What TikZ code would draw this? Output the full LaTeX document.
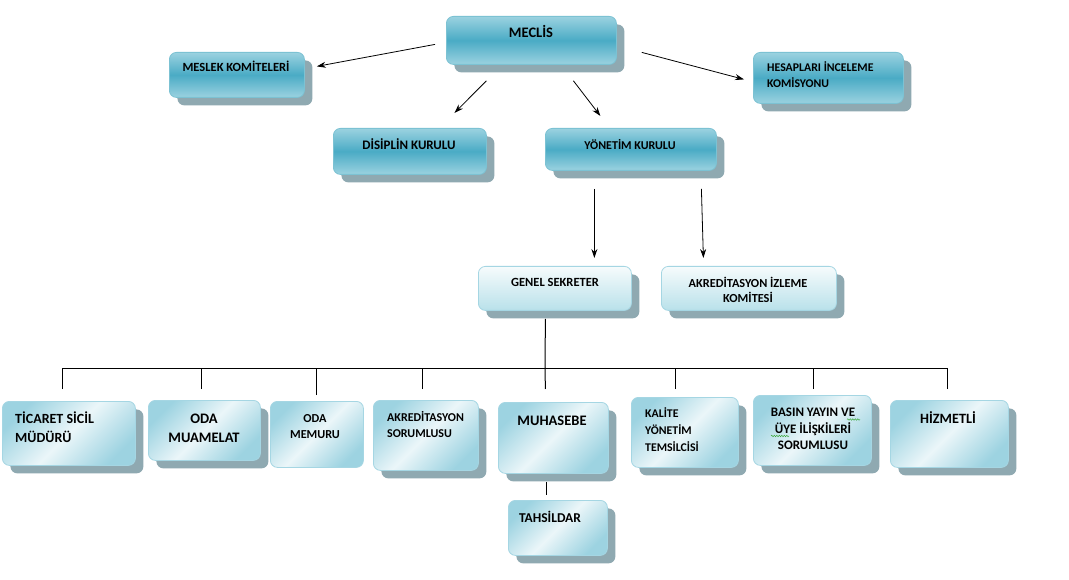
\documentclass[tikz,border=0pt]{standalone}
\usepackage{fontspec}
\setmainfont{Carlito}
\usetikzlibrary{arrows.meta,shadows,calc,decorations.pathmorphing}
\definecolor{tlight}{HTML}{9BD2E0}
\definecolor{tmid}{HTML}{4AABC5}
\definecolor{tbord}{HTML}{7CC2D3}
\definecolor{shc}{HTML}{8FA9B1}
\definecolor{ltop}{HTML}{F6FBFC}
\definecolor{lbot}{HTML}{B9E1EA}
\definecolor{lbord}{HTML}{A5D6E3}
\definecolor{dblue}{HTML}{9DD3E1}
\definecolor{dwhite}{HTML}{EBF6F9}
\definecolor{spell}{HTML}{3DA83D}
\tikzset{
  boxbase/.style={rounded corners=7pt, inner sep=0pt, anchor=north west, line width=0.8pt},
  shad/.style={drop shadow={shadow xshift=8pt, shadow yshift=-8pt, fill=shc, opacity=1}},
  topbox/.style={boxbase, shad, draw=tbord, top color=tlight, bottom color=tlight, middle color=tmid},
  lightbox/.style={boxbase, shad, draw=lbord, top color=ltop, bottom color=lbot},
  botbox/.style={boxbase, draw=lbord, left color=dblue, right color=dblue, middle color=dwhite, shading angle=45},
  botboxs/.style={botbox, shad},
  txt/.style={inner sep=0pt, font=\bfseries\fontsize{12.5}{16}\selectfont, text=black},
  arr/.style={-{Stealth[length=9pt,width=6pt]}, line width=0.8pt},
  tree/.style={line width=1pt},
  squig/.style={spell, line width=0.5pt, decorate, decoration={snake, amplitude=0.7pt, segment length=2.5pt}}
}
\begin{document}
\begin{tikzpicture}[x=1pt,y=-1pt]
\useasboundingbox[fill=white] (0,0) rectangle (1069,580);

% top level boxes
\node[topbox, minimum width=170pt, minimum height=48pt] (meclis) at (446,16) {};
\node[topbox, minimum width=135pt, minimum height=45pt] (mesl) at (169,52) {};
\node[topbox, minimum width=150pt, minimum height=51pt] (hes) at (753,52) {};
\node[topbox, minimum width=153pt, minimum height=46pt] (dis) at (333,128) {};
\node[topbox, minimum width=171pt, minimum height=42pt] (yon) at (545,128) {};
\node[lightbox, minimum width=153pt, minimum height=44pt] (gs) at (478,266) {};
\node[lightbox, minimum width=175pt, minimum height=44pt] (aiz) at (661,266) {};

% bottom row
\node[botboxs, minimum width=133pt, minimum height=64pt] (tic) at (2,401) {};
\node[botboxs, minimum width=112pt, minimum height=60pt] (muam) at (148,400) {};
\node[botbox, minimum width=93pt, minimum height=66pt] (mem) at (270,401) {};
\node[botboxs, minimum width=105pt, minimum height=70pt] (aks) at (373,400) {};
\node[botboxs, minimum width=110pt, minimum height=71pt] (muh) at (498,402) {};
\node[botboxs, minimum width=99pt, minimum height=55pt] (tah) at (508,500) {};
\node[botboxs, minimum width=107pt, minimum height=70pt] (kal) at (631,397) {};
\node[botboxs, minimum width=118pt, minimum height=70pt] (bas) at (753,395) {};
\node[botboxs, minimum width=118pt, minimum height=67pt] (hiz) at (890,400) {};

% texts
\node[txt, anchor=north, font=\bfseries\fontsize{14.5}{17}\selectfont] (meclis-t) at (531,25) {MECLİS};
\node[txt, anchor=north] (mesl-t) at (236,61) {MESLEK KOMİTELERİ};
\node[txt, anchor=north west, align=left, font=\bfseries\fontsize{11.8}{16}\selectfont] (hes-t) at (767,61.5) {HESAPLARI İNCELEME\\KOMİSYONU};
\node[txt, anchor=north, font=\bfseries\fontsize{13}{16}\selectfont] (dis-t) at (409,138.8) {DİSİPLİN KURULU};
\node[txt, anchor=north, font=\bfseries\fontsize{12}{16}\selectfont] (yon-t) at (630,139) {YÖNETİM KURULU};
\node[txt, anchor=north] (gs-t) at (555,278) {GENEL SEKRETER};
\node[txt, anchor=north, align=center, font=\bfseries\fontsize{12.3}{15}\selectfont] (aiz-t) at (748,277) {AKREDİTASYON İZLEME\\KOMİTESİ};
\node[txt, anchor=north west, align=left, font=\bfseries\fontsize{14}{19}\selectfont] (tic-t) at (15,411.3) {TİCARET SİCİL\\MÜDÜRÜ};
\node[txt, anchor=north, align=center, font=\bfseries\fontsize{14.5}{19}\selectfont] (muam-t) at (204,413.3) {ODA\\MUAMELAT};
\node[txt, anchor=north, align=center, font=\bfseries\fontsize{12.2}{16}\selectfont] (mem-t) at (315,414) {ODA\\MEMURU};
\node[txt, anchor=north west, align=left, font=\bfseries\fontsize{12}{16}\selectfont] (aks-t) at (387,411.3) {AKREDİTASYON\\SORUMLUSU};
\node[txt, anchor=north, font=\bfseries\fontsize{14.5}{17}\selectfont] (muh-t) at (552,415.3) {MUHASEBE};
\node[txt, anchor=north, font=\bfseries\fontsize{13.5}{16}\selectfont] (tah-t) at (550,510.7) {TAHSİLDAR};
\node[txt, anchor=north west, align=left, font=\bfseries\fontsize{11.8}{17}\selectfont] (kal-t) at (645,407.5) {KALİTE\\YÖNETİM\\TEMSİLCİSİ};
\node[txt, anchor=north, align=center, font=\bfseries\fontsize{13}{16.5}\selectfont] (bas-t) at (813,407.8) {BASIN YAYIN VE\\ÜYE İLİŞKİLERİ\\SORUMLUSU};
\node[txt, anchor=north, font=\bfseries\fontsize{14.2}{17}\selectfont] (hiz-t) at (948,411) {HİZMETLİ};

% spell-check squiggles
\coordinate (sq1a) at (847,419.5);
\coordinate (sq1b) at (860,419.5);
\coordinate (sq2a) at (771,436);
\coordinate (sq2b) at (789,436);
\draw[squig] (sq1a) -- (sq1b);
\draw[squig] (sq2a) -- (sq2b);

% arrows
\draw[arr] ($(meclis.west)+(-11,4)$) -- ($(mesl.east)+(12,-8.5)$);
\draw[arr] ($(meclis.south)+(-45,16)$) -- ($(dis.north)+(44.5,-15)$);
\draw[arr] ($(meclis.south)+(42,16)$) -- ($(yon.north)+(-30.5,-12)$);
\draw[arr] ($(meclis.east)+(25,12)$) -- ($(hes.west)+(-9,1.5)$);
\draw[arr] ($(yon.south)+(-36.5,18)$) -- ($(gs.north)+(39.5,-8)$);
\draw[arr] ($(yon.south)+(70.5,18)$) -- ($(aiz.north)+(-45.5,-8)$);

% tree
\coordinate (bus) at (545,368);
\draw[tree] ($(gs.south)+(-9.5,8)$) -- (bus);
\draw[tree] ($(tic.north)+(-6.5,-12)$) |- (bus);
\draw[tree] ($(muam.north)+(-3,-11)$) |- (bus);
\draw[tree] ($(mem.north)+(-0.5,-6)$) |- (bus);
\draw[tree] ($(aks.north)+(-3.5,-11)$) |- (bus);
\draw[tree] ($(muh.north)+(-8,-13)$) -- (bus);
\draw[tree] ($(kal.north)+(-9.5,-8)$) |- (bus);
\draw[tree] ($(bas.north)+(1,-6)$) |- (bus);
\draw[tree] ($(hiz.north)+(-2,-11)$) |- (bus);
\draw[tree] ($(muh.south)+(-7,8)$) -- ($(tah.north)+(-11.5,-5)$);
\end{tikzpicture}
\end{document}
